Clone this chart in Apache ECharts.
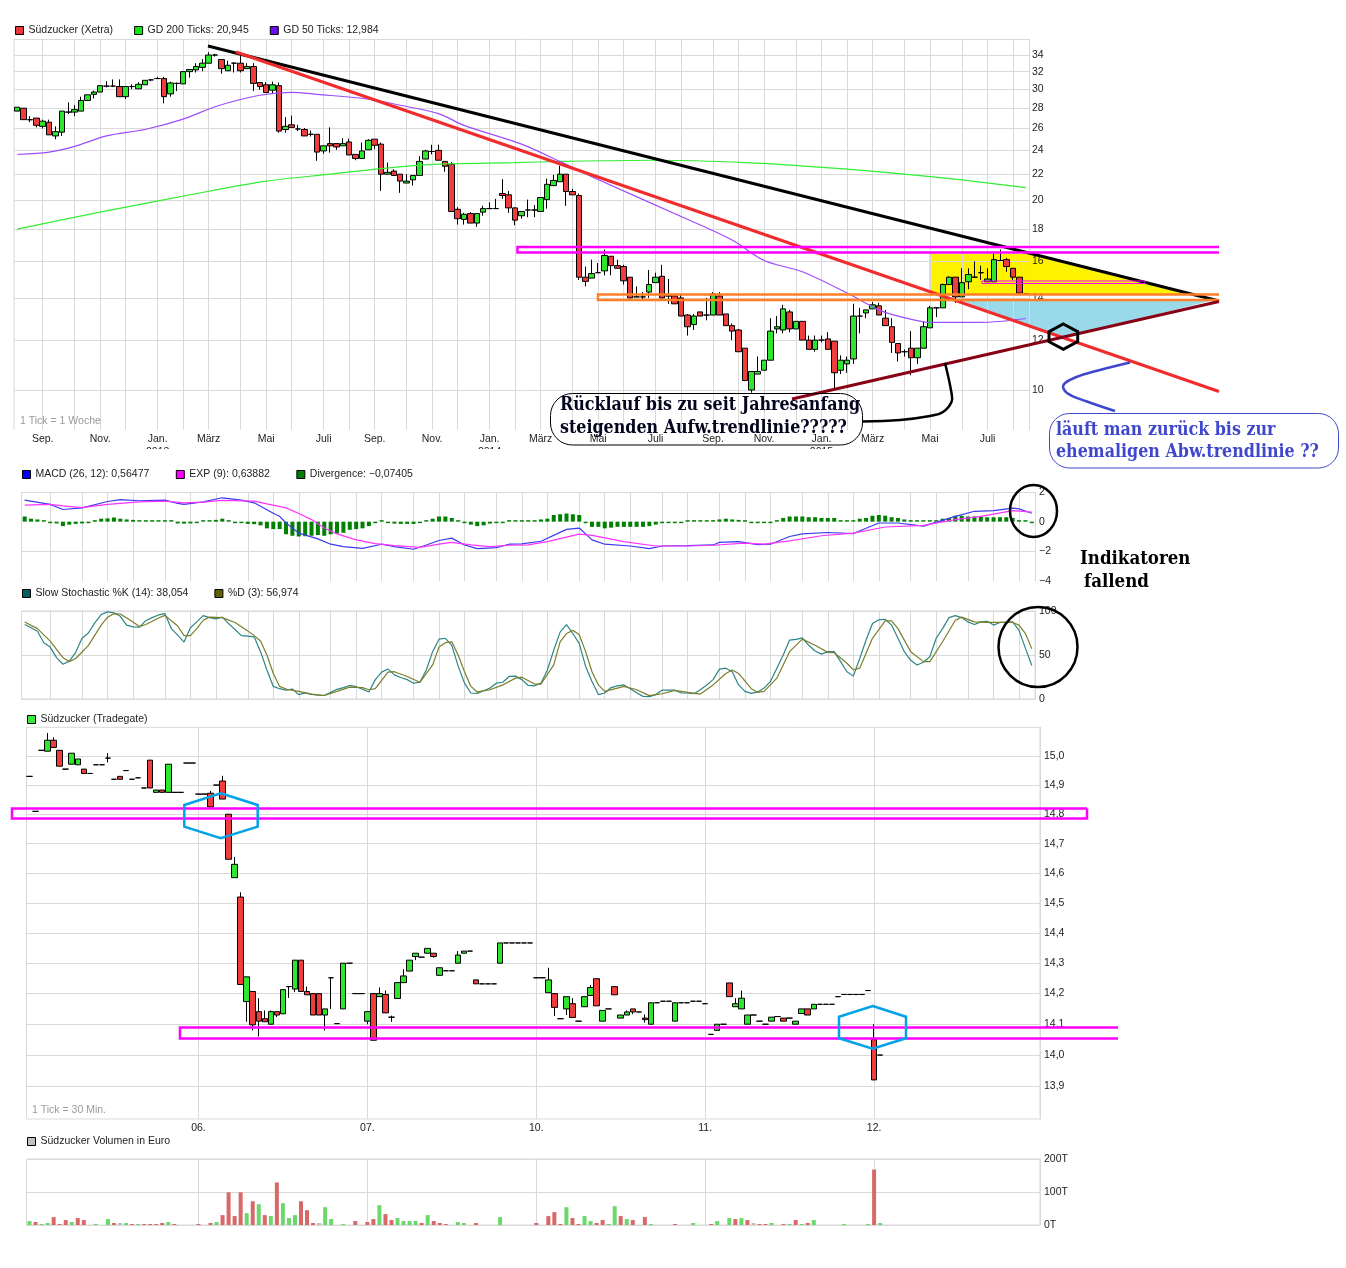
<!DOCTYPE html>
<html>
<head>
<meta charset="utf-8">
<title>Südzucker</title>
<script src="https://cdn.jsdelivr.net/npm/echarts@6/dist/echarts.min.js"></script>
<style>html,body{margin:0;padding:0;background:#fff}#chart_1{width:1346px;height:1268px}</style>
</head>
<body>
<div id="chart_1"></div>
<script>
// weekly candles [open, close, low, high], low/high left out when there is no wick
var xetraWeekly = [
[27.7,28.1],[28,26.85],[26.83,26.85,26.6,27.2],[27,26.3,26.1,27],[26.2,26.7,26,26.85],[26.6,25.4,25.4,26.85],[25.3,25.7,25,26.2],[25.65,27.7,25.3,27.7],[27.6,27.6,27.4,28.6],[27.6,27.85,27.2,28.3],
[27.7,28.8,27.7,29.2],[28.8,29.4],[29.45,29.7,29,29.85],[29.7,30.4],[30.35,30.35,30.2,30.9],[30.35,30.35,30.25,31.1],[30.3,29.2,29.2,31.1],[29.2,30.3,28.95,30.3],[30.3,30.3,30,30.55],[30.05,30.55,30.05,30.8],
[30.5,31],[31.05,31.05,30.9,31.1],[31.2,31.2,31.2,31.4],[31.2,29.2,28.5,31.4],[29.5,30.7,29.2,30.85],[30.65,30.65,29.8,30.75],[30.6,32],[32,32.25,31.3,32.25],[32.2,32.6,31.9,33],[32.5,33,32.05,33.5],
[33,34,33,34.35],[34,34,33.8,34.15],[33.45,32.35,31.75,33.45],[32.1,32.75,32.1,33.3],[33,33,31.9,33.1],[33,32.1,31.9,34],[32.35,32.6,32.35,33],[32.6,30.65,29.8,33],[30.75,30.3,29.95,30.75],[30.5,29.65,29.65,30.8],
[29.9,30.5,29.55,30.85],[30.4,25.75,25.6,30.75],[25.9,26.2,25.6,27.1],[26.35,26.1,26.1,27.25],[25.95,25.95,25.75,26.35],[25.9,25.3,25.3,26.05],[25.45,25.45,25.25,25.8],[25.45,23.85,23.1,25.45],[23.95,24.4,23.7,24.4],[24.6,24.4,23.8,26.1],
[24.6,24.3,24.05,24.6],[24.4,24.6,24.4,25.1],[24.75,23.6,23.6,25.05],[23.65,23.3,23.15,23.65],[23.3,23.95,23.3,24.7],[24.05,24.9,24.05,25],[25,24.45,24.1,25],[24.55,22,20.7,24.7],[22,22.15,22,22.95],[22.25,21.9,21.9,22.4],
[22,21.45,20.55,22],[21.3,21.45,21.3,22],[21.55,21.9,21.1,21.9],[21.9,23.05,21.9,23.5],[23.25,23.95,23.25,24.05],[23.9,23.9,23.65,24.5],[24,23.15,23.15,24.5],[23.05,22.65,22.2,23.05],[22.8,19.2,19.2,23],[19.35,18.7,18.3,19.5],
[18.65,19,18.3,19.1],[19.05,18.4,18.4,19.15],[18.4,19.05,18.15,19.05],[19.15,19.4,18.9,19.6],[19.4,19.4,19.4,19.85],[19.4,19.4,19.4,20.1],[20.5,20.35,20.1,21.6],[20.4,19.45,19.1,20.7],[19.45,18.6,18.25,19.5],[18.9,19.2,18.7,19.2],
[19.3,19.3,18.8,20.05],[19.3,19.3,18.8,19.65],[19.2,20.2],[20.05,21.2,19.4,21.65],[21.1,21.5,21.1,21.95],[21.4,22,21.4,22.7],[22,20.65,19.6,22],[20.65,20.4,20.4,20.85],[20.35,15.1,14.95,20.5],[15.1,14.87,14.6,15.7],
[15.05,15.3,15.05,16.1],[15.35,15.35,15.35,15.9],[15.45,16.35,15.2,16.7],[16.3,15.75,15.2,16.3],[15.75,15.6,15.6,16.1],[15.7,14.9,14.7,15.8],[15.1,14,14,15.1],[14.05,14.05,14.05,14.6],[14.05,14.05,13.85,14.3],[14.3,14.7,14,15.5],
[14.8,15.1,14.8,15.35],[15.15,14,14,15.8],[14.1,14.1,13.7,15],[14.1,13.7,13.7,14.1],[14,13.1,13.1,14.2],[13.15,12.6,12.2,13.2],[12.7,13.1,12.45,13.2],[13.3,13.1],[13.15,13.15,12.9,14],[13.15,14.2,13.15,14.3],
[14.1,13.15,13.15,14.3],[13.2,12.65],[12.65,12.4,12,12.75],[12.45,11.5,11.5,12.5],[11.65,10.35,10.35,11.65],[10,10.7,9.9,10.7],[10.6,10.7,10.6,11.3],[10.75,11.15],[11.15,12.4,11.15,13],[12.5,12.6,12.3,13.1],
[12.45,13.45,12.3,13.65],[13.3,12.5,12.35,13.4],[12.5,12.85],[12.85,12,12,12.85],[12,11.6,11.6,12.2],[11.6,12,11.5,12.2],[12,12,11.9,12.2],[12.05,11.6,11.6,12.35],[11.95,10.65,10,11.95],[10.75,11.15,10.6,11.35],
[11,11.15,10.65,11.3],[11.2,13.1,11,13.7],[13.1,13.1,12.3,13.5],[13.25,13.4,13,13.4],[13.45,13.65,13.45,13.8],[13.6,13.15,13.15,13.75],[13,12.65,12.65,13.4],[12.6,11.9,11.45,13],[11.85,11.45,11.1,11.85],[11.5,11.5,11.3,11.6],
[11.65,11.25,10.55,12.4],[11.25,11.65,11,11.65],[11.65,12.6,11.65,12.85],[12.55,13.5,12.55,13.6],[13.5,13.5,13.05,13.5],[13.5,14.7,13.5,14.75],[14.7,15.1,14.7,15.15],[15.1,14.05,13.75,15.1],[14.05,14.8,14.05,15.6],[14.85,15.25,14.45,15.6],
[15.1,15.1,15.1,16],[15.35,15.35,14.95,15.75],[14.85,15,14.85,15.6],[14.85,16.1,14.85,16.45],[16.05,16.05,16.05,16.7],[16.1,15.7,15.4,16.2],[15.6,15.1,14.95,15.6],[15.1,14.25,14.25,15.1],[14.2,14.2]
];
// moving averages, [week index, price]
var gd200 = [[0,18],[13,19.15],[30,20.67],[39,21.45],[49,22],[57,22.45],[65,22.8],[78,22.95],[85,23.05],[100,23.15],[114,22.95],[129,22.45],[145,21.7],[158,20.945]];
var gd50 = [[0,23.64],[5,23.85],[9,24.35],[14,25.3],[20,25.9],[26,26.9],[31,28.15],[38,29.35],[43,29.67],[47,29.45],[55,28.95],[60,28.3],[66,27.45],[70,26.3],[79,24.55],[85,23.05],[90,21.8],[104,18.85],[112,17.3],[117,16.05],[123,15.4],[130,14.25],[135,13.4],[138,13.1],[143,12.8],[151,12.8],[158,12.984]];
var priceTicks = [10,12,14,16,18,20,22,24,26,28,30,32,34];
var priceMin = 8.64, priceMax = 36.05;

var monthTicks = [4,9,13,17,22,26,30,35,39,43,48,52,56,61,65,69,74,78,82,87,91,95,100,104,109,113,117,122,126,130,134,139,143,148,152,156];
var monthLabels = {4:'Sep.',13:'Nov.',22:'Jan.\n2013',30:'März',39:'Mai',48:'Juli',56:'Sep.',65:'Nov.',74:'Jan.\n2014',82:'März',91:'Mai',100:'Juli',109:'Sep.',117:'Nov.',126:'Jan.\n2015',134:'März',143:'Mai',152:'Juli'};

var macdLine = [[0,1.45],[4,1.16],[6,.82],[9,.93],[13,1.36],[15,1.48],[18,1.41],[22,1.45],[24,1.23],[25,1.16],[28,1.34],[31,1.61],[34,1.45],[36,1.27],[39,.57],[40,.36],[41,-.09],[43,-.77],[46,-1.16],[48,-1.52],[50,-1.68],[53,-1.8],[56,-1.52],[58,-1.68],[61,-1.86],[63,-1.57],[65,-1.27],[67,-1.11],[69,-1.57],[71,-1.82],[74,-1.75],[76,-1.52],[78,-1.5],[81,-1.32],[85,-.52],[87,-.43],[89,-1.23],[91,-1.52],[95,-1.64],[98,-1.82],[100,-1.64],[104,-1.61],[108,-1.57],[109,-1.39],[112,-1.34],[115,-1.55],[117,-1.52],[120,-1],[122,-.82],[126,-.73],[130,-.8],[134,-.09],[137,-.09],[141,-.3],[146,.36],[149,.7],[152,.75],[155,.91],[156,.86],[158,.565]];
var expLine = [[0,1.11],[4,1.16],[6,1.07],[9,.95],[13,1.16],[18,1.34],[22,1.39],[25,1.27],[28,1.32],[31,1.43],[36,1.39],[38,1.2],[41,.93],[43,.55],[45,.14],[47,-.43],[49,-.82],[52,-1.23],[55,-1.48],[58,-1.61],[62,-1.73],[65,-1.52],[67,-1.39],[70,-1.57],[73,-1.68],[76,-1.59],[79,-1.57],[82,-1.34],[87,-.84],[89,-.93],[94,-1.34],[99,-1.64],[104,-1.64],[108,-1.59],[113,-1.45],[116,-1.52],[120,-1.3],[125,-.95],[130,-.77],[135,-.36],[141,-.25],[146,.14],[150,.36],[155,.75],[158,.639]];
var divergence = [
.35,.2,.15,0,-.05,-.12,-.3,-.2,-.15,-.12,
-.02,.1,.2,.22,.28,.2,.15,.12,.1,.1,
.08,.1,.08,.02,-.12,-.13,-.12,-.03,.06,.08,
.12,.2,.03,-.02,-.02,-.15,-.17,-.25,-.45,-.5,
-.5,-.85,-.95,-1,-.98,-.95,-.9,-.95,-.85,-.8,
-.75,-.55,-.5,-.45,-.3,-.1,0,-.1,-.13,-.15,
-.15,-.15,-.07,.08,.2,.35,.35,.25,.05,-.1,
-.2,-.3,-.25,-.13,-.1,-.02,.1,.1,.07,.1,
.1,.15,.2,.45,.5,.55,.5,.45,-.02,-.35,
-.35,-.45,-.4,-.35,-.35,-.35,-.35,-.35,-.3,-.2,
-.02,-.02,-.02,-.01,.01,.01,.01,.02,.05,.15,
.2,.15,.12,.08,-.08,-.1,-.1,-.1,.05,.25,
.35,.35,.35,.3,.3,.25,.25,.25,.1,.05,
.05,.2,.25,.4,.45,.4,.3,.25,.15,.05,
.02,.02,.02,.1,.2,.25,.4,.4,.35,.35,
.35,.3,.3,.3,.3,.25,.1,.05,-.07
];
var macdTicks = [2,0,-2,-4];
var macdLines = [2,-2];

var stochK = [
84.6,81,77,64,59,47,39.5,43,53,69,
75,86.5,96,99,98,94,84,82,81.6,89,
92.5,95.5,97,80,72.5,64.7,81,87.6,94.7,92.5,
91,93,85.7,79,72,71.4,70.7,53.8,33,14.3,
11.7,10,11.3,5,7,5.3,4.5,4,7.5,11,
13,15.4,14,11,8,22,30.5,34,27.4,24.4,
22,18,19,33,53.8,68,69,61,37.6,18,
6.8,6.4,9.4,12.4,18,19,25.6,26,22,15.4,
15,18,33,55.6,76,84.6,74.4,63,37,20,
5,6.8,13,15,16,11.7,7,3,2.6,5,
10,10,10,6.8,6.8,6,10.5,16,22,34,
35,31,16,8.6,6.4,8,12.4,20,35,50,
67,67.7,69.5,61,54.5,51,53.8,53.8,42.5,31,
26,46,67,85.7,90,90.6,84,69,53.8,44,
38.7,41.7,48,69,80,92.5,94.7,92.5,87.6,84.6,
87.6,88.3,84,87,87.2,87.6,78,57.5,38.054
];
var stochD = [[0,87.6],[2,80],[4,65.8],[6,47],[7,42.5],[8,46],[10,61],[12,84],[13,93],[14,97],[15,96.6],[17,87.6],[18,82.3],[19,84.6],[21,92],[22,95],[24,83],[25,72],[26,72],[27,80],[28,89.5],[29,93],[31,92.5],[33,87],[35,77.4],[36,72],[37,66],[38,50],[39,29],[40,14.3],[41,11.3],[43,8.6],[45,5.6],[47,4],[49,8.6],[51,13.5],[53,13],[54,10.5],[55,11.7],[57,30.5],[58,31],[60,25.6],[62,19],[64,38.7],[65,59],[66,64],[67,65],[68,50],[69,31],[70,14.3],[71,8],[73,10.5],[75,16],[77,23.7],[78,24.8],[80,17],[81,17],[83,38.7],[84,65],[85,74.4],[86,78],[87,73],[88,53.8],[89,31],[90,16],[91,8.6],[93,12.4],[94,14.3],[96,10.5],[98,3.8],[100,6],[102,9.8],[104,7.5],[106,5.6],[108,16],[110,29],[111,33],[112,29],[114,11.7],[115,7.5],[116,8.6],[118,23.7],[120,53.8],[122,68],[124,61],[126,53],[127,52.6],[129,40.6],[130,33],[131,35],[133,69],[135,88.7],[136,88.7],[137,80],[139,53.8],[141,42.5],[142,42.5],[144,65],[146,89.5],[147,93],[149,87.6],[151,87],[155,87],[156,84],[157,74.4],[158,56.974]];
var stochTicks = [0,50,100];

// 30 minute candles [open, close, low, high]
var tradegate = [
[14.93,14.93],[14.81,14.81],[15.02,15.02],[15.017,15.055,15.017,15.08],[15.055,15.03,15.03,15.065],[15.02,14.965],[14.955,14.955],[14.972,15.01],[14.97,14.99],[14.955,14.94],
[14.94,14.94],[14.97,14.97],[14.97,14.97],[14.993,14.993,14.978,15.01],[14.92,14.92],[14.93,14.92],[14.95,14.95],[14.92,14.92],[14.925,14.925],[14.89,14.89],
[14.986,14.89],[14.875,14.883],[14.883,14.875],[14.875,14.972],[14.875,14.875],[14.875,14.875],[14.976,14.976],[14.976,14.976],[14.869,14.869],[14.869,14.869],
[14.872,14.825,14.825,14.88],[14.9,14.9],[14.914,14.852,14.852,14.932],[14.8,14.647],[14.585,14.63,14.585,14.655],[14.52,14.23,14.23,14.536],[14.174,14.255,14.108,14.255],[14.207,14.098,14.08,14.207],[14.141,14.11,14.06,14.185],[14.118,14.108,14.108,14.145],
[14.1,14.141,14.1,14.145],[14.141,14.13,14.123,14.141],[14.134,14.213],[14.223,14.223,14.186,14.223],[14.215,14.31,14.205,14.31],[14.31,14.207],[14.207,14.196,14.196,14.223],[14.2,14.13],[14.2,14.13],[14.13,14.15,14.08,14.15],
[14.252,14.252,14.15,14.252],[14.102,14.102],[14.15,14.3],[14.3,14.3],[14.2,14.2],[14.2,14.2],[14.11,14.141,14.1,14.141],[14.2,14.048],[14.19,14.2,14.19,14.22],[14.197,14.137,14.137,14.21],
[14.123,14.123,14.108,14.128],[14.184,14.236],[14.236,14.258,14.236,14.28],[14.274,14.31],[14.322,14.333,14.31,14.333],[14.32,14.32],[14.333,14.349],[14.333,14.322,14.318,14.333],[14.26,14.285],[14.275,14.275],
[14.275,14.275],[14.3,14.327,14.3,14.34],[14.333,14.34],[14.34,14.34],[14.245,14.232],[14.232,14.232],[14.232,14.232],[14.232,14.232],[14.3,14.367],[14.367,14.367],
[14.367,14.367],[14.367,14.367],[14.367,14.367],[14.367,14.367],[14.252,14.252],[14.252,14.252],[14.203,14.245,14.203,14.285],[14.2,14.155,14.127,14.2],[14.118,14.118],[14.15,14.19,14.13,14.19],
[14.167,14.122,14.122,14.185],[14.11,14.11],[14.157,14.19],[14.194,14.22,14.194,14.228],[14.249,14.16],[14.11,14.145],[14.15,14.15],[14.223,14.196],[14.12,14.13],[14.13,14.14,14.13,14.145],
[14.15,14.14,14.133,14.15],[14.14,14.14],[14.12,14.115,14.105,14.132],[14.1,14.17],[14.17,14.17],[14.175,14.175],[14.175,14.175],[14.11,14.17],[14.17,14.17],[14.17,14.17],
[14.175,14.175],[14.175,14.175],[14.167,14.167],[14.067,14.067],[14.08,14.1],[14.1,14.1],[14.235,14.19],[14.157,14.167,14.157,14.185],[14.15,14.185,14.15,14.21],[14.1,14.13],
[14.13,14.13],[14.11,14.11],[14.1,14.1],[14.11,14.123],[14.125,14.125],[14.12,14.11],[14.12,14.12],[14.1,14.11],[14.135,14.15],[14.15,14.13],
[14.15,14.165],[14.165,14.165],[14.165,14.165],[14.165,14.165],[14.19,14.19],[14.197,14.197],[14.197,14.197],[14.197,14.197],[14.197,14.197],[14.21,14.21],
[14.05,13.92,13.92,14.1],[14,14]
];
var intradayTicks = [13.9,14,14.1,14.2,14.3,14.4,14.5,14.6,14.7,14.8,14.9,15];
var intradayMin = 13.795, intradayMax = 15.1;
var dayTicks = {28:'06.',56:'07.',84:'10.',112:'11.',140:'12.'};
var intradaySlots = 168;

// volume in thousand euro, one letter per half hour: g up, r down, n unchanged
var volume = [
12,9,3,6,24,3,15,9,21,15,
0,3,0,18,6,6,6,3,3,3,
3,3,6,9,3,0,0,0,3,0,
6,9,30,99,27,99,36,72,63,30,
27,129,66,21,30,72,45,6,6,54,
18,0,3,0,12,0,9,18,60,33,
15,21,12,12,12,6,30,12,6,3,
0,9,6,0,6,0,0,0,24,0,
0,0,0,0,6,0,27,39,3,54,
21,3,27,12,6,15,3,57,27,18,
15,0,24,3,0,0,0,3,0,0,
6,0,0,3,12,0,21,18,21,15,
6,3,3,6,0,3,3,15,3,6,
15,0,0,0,0,3,0,0,0,3,
168,6
];
var volumeDir = 'grggrrrgrr-g-grngrgrrrrgr---r-rgrrrrgrgrgrgggrrrngg-g-r-rrgrrggggrgrrr-gg-r---g-----r-rrrgrrggrrggrgr-rg---r--g--rg-grgrnrrg-rgrgrg----g---grg';
var volumeTicks = [0,100,200];

var RED = '#f03c3c', GREEN = '#2fe62f', GRID = '#d9d9d9';
var FONT = '"Liberation Sans", Arial, sans-serif';
var volColors = {g:'#6bd86b', r:'#d96868', n:'#bdbdbd', '-':'#bdbdbd'};
var lg = Math.log;

function candleData(rows, scale) {
    return rows.map(function (r) {
        var low = r.length > 2 ? r[2] : Math.min(r[0], r[1]);
        var high = r.length > 2 ? r[3] : Math.max(r[0], r[1]);
        return [scale(r[0]), scale(r[1]), scale(low), scale(high)];
    });
}
function logPairs(rows) {
    return rows.map(function (p) { return [p[0], lg(p[1])]; });
}
function indexCats(n) {
    var cats = [];
    for (var i = 0; i < n; i++) cats.push(String(i));
    return cats;
}
function xAxisFor(grid, count, isTick, labels) {
    var tickFn = function (i) { return isTick(i); };
    return {
        type: 'category', gridIndex: grid, data: indexCats(count), boundaryGap: true,
        axisLine: {show: false},
        axisTick: {show: false, alignWithLabel: true, interval: tickFn},
        splitLine: {show: true, alignWithLabel: true, interval: tickFn, lineStyle: {color: GRID, width: 1}},
        axisLabel: labels ? {
            show: true, margin: 3, color: '#222', fontSize: 10.5, fontFamily: FONT, lineHeight: 13,
            interval: function (i) { return labels[i] !== undefined; },
            hideOverlap: false,
            formatter: function (v) { return labels[v] || ''; }
        } : {show: false}
    };
}
function yAxisFor(grid, min, max, labelVals, lineVals, fmt, margin) {
    return {
        type: 'value', gridIndex: grid, position: 'right', min: min, max: max, scale: true,
        axisLine: {show: true, lineStyle: {color: GRID}},
        axisTick: {show: false, customValues: lineVals},
        splitLine: {show: true, lineStyle: {color: GRID, width: 1}},
        axisLabel: {show: true, margin: margin, color: '#222', fontSize: 10.5, fontFamily: FONT, customValues: labelVals, formatter: fmt, hideOverlap: false, showMinLabel: true, showMaxLabel: true}
    };
}
function legendFor(y, x, gap, items) {
    return {
        left: x, top: y - 4, padding: 0, itemGap: gap, itemWidth: 8, itemHeight: 8, icon: 'rect', selectedMode: false,
        textStyle: {fontSize: 10.5, color: '#222', fontFamily: FONT},
        data: items.map(function (it) {
            return {name: it[0], itemStyle: {color: it[1], borderColor: '#000', borderWidth: 1}};
        })
    };
}
function isMonth(i) { return monthTicks.indexOf(i) >= 0; }
function isDay(i) { return dayTicks[i] !== undefined; }
function lineSeries(name, data, color, x, smooth, w) {
    return {
        name: name, type: 'line', xAxisIndex: x, yAxisIndex: x, data: data, showSymbol: false, smooth: smooth,
        lineStyle: {color: color, width: w}, itemStyle: {color: color}, z: 3
    };
}
var candleStyle = {color: GREEN, color0: RED, borderColor: '#000', borderColor0: '#000', borderColorDoji: '#000', borderWidth: 1};

var names = {
    xetra: 'Südzucker (Xetra)', g200: 'GD 200 Ticks: 20,945', g50: 'GD 50 Ticks: 12,984',
    macd: 'MACD (26, 12): 0,56477', exp: 'EXP (9): 0,63882', div: 'Divergence: −0,07405',
    k: 'Slow Stochastic %K (14): 38,054', d: '%D (3): 56,974',
    trade: 'Südzucker (Tradegate)', vol: 'Südzucker Volumen in Euro'
};

// hand drawn notes on top of the chart, page pixels
function line(pts, color, w, z) {
    return {type: 'polyline', z: z || 50, silent: true, shape: {points: pts}, style: {stroke: color, lineWidth: w, fill: 'transparent'}};
}
function curve(pts, color, w) {
    return {type: 'polyline', z: 50, silent: true, shape: {points: pts, smooth: 0.4}, style: {stroke: color, lineWidth: w, fill: 'transparent'}};
}
function poly(pts, stroke, w) {
    return {type: 'polygon', z: 50, silent: true, shape: {points: pts}, style: {stroke: stroke, lineWidth: w, fill: 'transparent'}};
}
function area(pts, color) {
    return {type: 'polygon', z: -1, silent: true, shape: {points: pts}, style: {fill: color}};
}
function note(x, y, s, color, size) {
    return {type: 'text', z: 60, silent: true, x: x, y: y, style: {text: s, fill: color, font: 'bold ' + size + 'px "DejaVu Serif Condensed", "Liberation Serif", serif', verticalAlign: 'middle'}};
}
function small(x, y, s) {
    return {type: 'text', z: 5, silent: true, x: x, y: y, style: {text: s, fill: '#9a9a9a', font: '10.5px ' + FONT, verticalAlign: 'middle'}};
}
function oval(cx, cy, rx, ry) {
    return {type: 'ellipse', z: 50, silent: true, shape: {cx: cx, cy: cy, rx: rx, ry: ry}, style: {stroke: '#000', lineWidth: 2.5, fill: 'transparent'}};
}
var MAGENTA = '#ff00ff', ORANGE = '#ff7f27', CYAN = '#00a2e8', NOTE_BLUE = '#3f48cc';
var notes = [
    area([[929,254],[1031,254],[1190,295],[929,295]], '#fff200'),
    area([[963,301],[1210,301],[1063,338],[1040,330]], '#99d9ea'),
    {type: 'rect', z: 10, silent: true, shape: {x: 0, y: 449, width: 1040, height: 14}, style: {fill: '#fff'}},
    line([[14,39],[14,430]], GRID, 1, 1),
    line([[21.5,492],[21.5,581]], GRID, 1, 1),
    small(20, 421, '1 Tick = 1 Woche'),
    small(32, 1110, '1 Tick = 30 Min.'),
    line([[208,46],[1219,301]], '#000', 3),
    line([[236,52],[1219,391.5]], '#f22c2c', 3),
    line([[1219,247],[517.5,247],[517.5,252.5],[1219,252.5]], MAGENTA, 2.5),
    line([[1219,294.5],[598,294.5],[598,300],[1219,300]], ORANGE, 2.5),
    line([[792,399],[1219,301.5]], '#880015', 3),
    poly([[982,281],[1145,281],[1145,283.5],[982,283.5]], MAGENTA, 1),
    poly([[1063.3,324],[1077.7,331.7],[1077.7,341.7],[1063.3,349.3],[1049,341.7],[1049,331.7]], '#000', 3),
    curve([[945,363],[951.5,393],[951.5,402],[943,412],[930,416],[900,420],[862,421.5]], '#000', 2.5),
    curve([[1130,362.5],[1100,370],[1076.5,377],[1063.5,385],[1067,393],[1087,401.5],[1115,411]], NOTE_BLUE, 2.5),
    {type: 'rect', z: 50, silent: true, shape: {x: 550.5, y: 393.5, width: 312, height: 51.5, r: 22}, style: {stroke: '#000', lineWidth: 1, fill: 'transparent'}},
    note(560, 405, 'Rücklauf bis zu seit Jahresanfang', '#04041e', 17.7),
    note(560, 428, 'steigenden Aufw.trendlinie?????', '#04041e', 17.7),
    {type: 'rect', z: 50, silent: true, shape: {x: 1049.5, y: 413.5, width: 289, height: 54.5, r: 20}, style: {stroke: NOTE_BLUE, lineWidth: 1, fill: 'transparent'}},
    note(1056, 430, 'läuft man zurück bis zur', NOTE_BLUE, 17.7),
    note(1056, 452, 'ehemaligen Abw.trendlinie ??', NOTE_BLUE, 17.7),
    note(1080, 559, 'Indikatoren', '#000', 18.5),
    note(1084, 582, 'fallend', '#000', 18.5),
    oval(1033.5, 511, 23.5, 26),
    oval(1038, 647, 39.5, 40),
    line([[1087,808.5],[12,808.5],[12,818.5],[1087,818.5],[1087,808.5]], MAGENTA, 2.5),
    line([[1118,1027.5],[180,1027.5],[180,1038.5],[1118,1038.5]], MAGENTA, 2.5),
    poly([[220.7,793.3],[257.7,805],[257.7,826.7],[220.7,838.3],[184.3,826.7],[184.3,805]], CYAN, 2.5),
    poly([[872.7,1006],[906,1016.7],[906,1038.3],[872.7,1048.7],[839,1038.3],[839,1016.7]], CYAN, 2.5)
];

function fmtInt(v) { return String(Math.round(Math.exp(v))); }
function fmtDec(v) { return Math.exp(v).toFixed(1).replace('.', ','); }
function fmtSigned(v) { return String(v).replace('-', '−'); }

var option = {
    animation: false,
    backgroundColor: '#fff',
    textStyle: {fontFamily: FONT},
    grid: [
        {left: 14, top: 39, width: 1015, height: 391, show: false},
        {left: 21.5, top: 492, width: 1013.5, height: 89, show: false},
        {left: 21.5, top: 611, width: 1013.5, height: 88, show: true, borderColor: GRID, borderWidth: 1},
        {left: 26.5, top: 727.3, width: 1013.5, height: 391.7, show: true, borderColor: GRID, borderWidth: 1},
        {left: 26.5, top: 1159, width: 1013.5, height: 66, show: true, borderColor: GRID, borderWidth: 1}
    ],
    legend: [
        legendFor(29, 15, 21, [[names.xetra, '#e8383c'], [names.g200, '#12e612'], [names.g50, '#6a0cf0']]),
        legendFor(473, 22, 26.5, [[names.macd, '#0000ff'], [names.exp, '#ff00ff'], [names.div, '#008000']]),
        legendFor(592, 22, 26, [[names.k, '#006060'], [names.d, '#606000']]),
        legendFor(718, 27, 20, [[names.trade, '#3ce83c']]),
        legendFor(1140, 27, 20, [[names.vol, '#c0c0c0']])
    ],
    xAxis: [
        xAxisFor(0, xetraWeekly.length, isMonth, monthLabels),
        xAxisFor(1, xetraWeekly.length, isMonth),
        xAxisFor(2, xetraWeekly.length, isMonth),
        xAxisFor(3, intradaySlots, isDay, dayTicks),
        xAxisFor(4, intradaySlots, isDay)
    ],
    yAxis: [
        yAxisFor(0, lg(priceMin), lg(priceMax), priceTicks.map(lg), priceTicks.concat([priceMax]).map(lg), fmtInt, 3),
        yAxisFor(1, -4, 2, macdTicks, macdLines, fmtSigned, 4),
        yAxisFor(2, 0, 100, stochTicks, stochTicks, null, 4),
        yAxisFor(3, lg(intradayMin), lg(intradayMax), intradayTicks.map(lg), intradayTicks.map(lg), fmtDec, 4),
        yAxisFor(4, 0, 200, volumeTicks, volumeTicks, function (v) { return v + 'T'; }, 4)
    ],
    series: [
        {name: names.xetra, type: 'candlestick', xAxisIndex: 0, yAxisIndex: 0, barWidth: 6, itemStyle: candleStyle, data: candleData(xetraWeekly, lg), z: 2},
        lineSeries(names.g200, logPairs(gd200), '#33ee33', 0, 0.3, 1.2),
        lineSeries(names.g50, logPairs(gd50), '#9b4dff', 0, 0.3, 1.2),
        lineSeries(names.macd, macdLine, '#3a3af0', 1, false, 1.2),
        lineSeries(names.exp, expLine, '#ff33ff', 1, false, 1.2),
        {name: names.div, type: 'bar', xAxisIndex: 1, yAxisIndex: 1, barWidth: 4, barMinHeight: 1.5, itemStyle: {color: '#008000'}, data: divergence, z: 2},
        lineSeries(names.k, stochK.map(function (v, i) { return [i, v]; }), '#2d8585', 2, false, 1.2),
        lineSeries(names.d, stochD, '#7d7d2a', 2, false, 1.2),
        {name: names.trade, type: 'candlestick', xAxisIndex: 3, yAxisIndex: 3, barWidth: 6, itemStyle: candleStyle, data: candleData(tradegate, lg), z: 2},
        {name: names.vol, type: 'bar', xAxisIndex: 4, yAxisIndex: 4, barWidth: 4, itemStyle: {color: '#c0c0c0'},
            data: volume.map(function (v, i) { return v ? {value: v, itemStyle: {color: volColors[volumeDir.charAt(i)]}} : null; })}
    ],
    graphic: {elements: notes}
};

var dom = document.getElementById('chart_1');
var myChart = echarts.init(dom, null, {renderer: 'canvas'});
myChart.setOption(option);
</script>
</body>
</html>
